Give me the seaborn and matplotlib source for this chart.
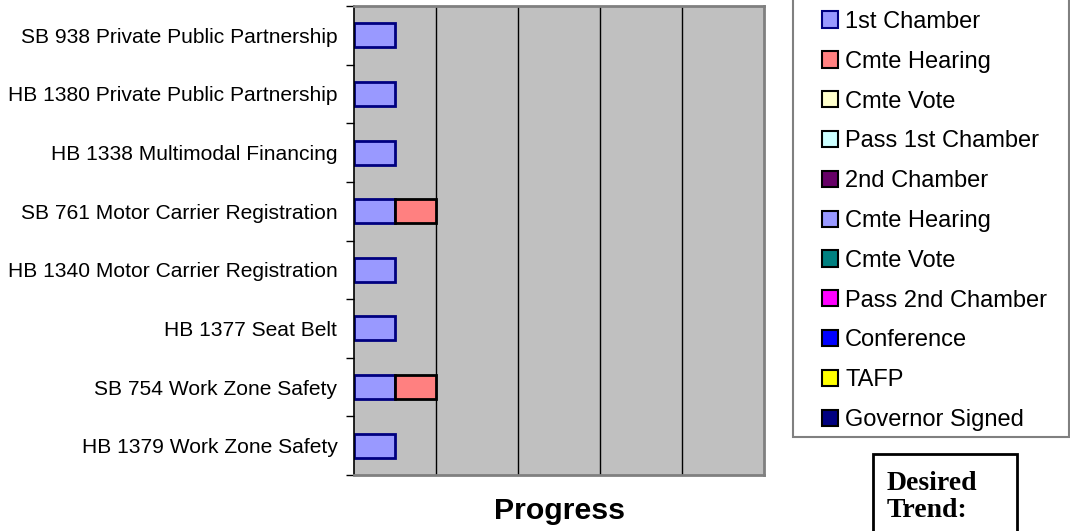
import numpy as np
import pandas as pd
import matplotlib
matplotlib.use("Agg")
import matplotlib.pyplot as plt
from matplotlib.patches import Patch, Rectangle
import seaborn as sns

# bills, top to bottom
bills = [
    "SB 938 Private Public Partnership",
    "HB 1380 Private Public Partnership",
    "HB 1338 Multimodal Financing",
    "SB 761 Motor Carrier Registration",
    "HB 1340 Motor Carrier Registration",
    "HB 1377 Seat Belt",
    "SB 754 Work Zone Safety",
    "HB 1379 Work Zone Safety",
]

# legislative stages (legend order)
stages = [
    "1st Chamber", "Cmte Hearing", "Cmte Vote", "Pass 1st Chamber",
    "2nd Chamber", "Cmte Hearing ", "Cmte Vote ", "Pass 2nd Chamber",
    "Conference", "TAFP", "Governor Signed",
]
stage_colors = [
    "#9999FF", "#FF8080", "#FFFFCC", "#CCFFFF", "#660066", "#9999FF",
    "#008080", "#FF00FF", "#0000FF", "#FFFF00", "#000080",
]
stage_edges = ["#000080"] + ["black"] * 10

# progress per stage for each bill
first_chamber = [1, 1, 1, 1, 1, 1, 1, 1]
cmte_hearing = [0, 0, 0, 1, 0, 0, 1, 0]

progress = pd.DataFrame(0, index=bills, columns=stages, dtype=float)
progress["1st Chamber"] = first_chamber
progress["Cmte Hearing"] = cmte_hearing
starts = progress.cumsum(axis=1) - progress

sns.set_style("white")
plt.rcParams["font.family"] = ["Liberation Sans", "DejaVu Sans"]
plt.rcParams["text.color"] = "black"
plt.rcParams["axes.labelcolor"] = "black"
plt.rcParams["ytick.color"] = "black"

fig = plt.figure(figsize=(10.7, 5.31), dpi=100)
ax = fig.add_axes([354 / 1070, 1 - 475 / 531, 410 / 1070, 469 / 531])
ax.set_facecolor("#C0C0C0")

for stage, col, ec in zip(stages, stage_colors, stage_edges):
    sub = progress[progress[stage] > 0]
    if sub.empty:
        continue
    df = pd.DataFrame({"bill": sub.index, "value": sub[stage].values})
    sns.barplot(data=df, x="value", y="bill", order=bills, orient="h",
                color=col, saturation=1, width=0.41, ax=ax,
                left=starts.loc[sub.index, stage].values,
                edgecolor=ec, linewidth=2)

ax.set_xlim(0, 10)
ax.set_ylim(len(bills) - 0.5, -0.5)
ax.set_xticks([2, 4, 6, 8])
ax.set_xticklabels([])
ax.tick_params(axis="x", length=0)
ax.xaxis.grid(True, color="black", linewidth=1)
ax.set_axisbelow(True)

ax.set_yticks(range(len(bills)))
ax.set_yticklabels(bills, fontsize=15.1)
ax.set_yticks(np.arange(-0.5, len(bills), 1), minor=True)
ax.tick_params(axis="y", which="major", length=0, pad=12)
ax.tick_params(axis="y", which="minor", length=6, width=1, color="black", left=True)
ax.set_ylabel("")
ax.set_xlabel("Progress", fontsize=21.8, fontweight="bold", labelpad=12)

for side in ["top", "right", "bottom"]:
    ax.spines[side].set_color("#808080")
    ax.spines[side].set_linewidth(2)
ax.spines["left"].set_color("black")
ax.spines["left"].set_linewidth(1.2)

# legend box
fig.patches.append(Rectangle((793 / 1070, 1 - 437 / 531), 276 / 1070, 437 / 531 + 0.05,
                             transform=fig.transFigure, facecolor="white",
                             edgecolor="#808080", linewidth=1.5, zorder=0))
handles = [Patch(facecolor=c, edgecolor=e, linewidth=1.5) for c, e in zip(stage_colors, stage_edges)]
fig.legend(handles, [s.strip() for s in stages], loc="center left",
           bbox_to_anchor=(822 / 1070, 1 - 221 / 531), frameon=False,
           fontsize=17, handlelength=0.68, handleheight=0.68,
           handletextpad=0.3, labelspacing=0.755, borderpad=0, borderaxespad=0)

# desired trend box
fig.patches.append(Rectangle((873 / 1070, -0.05), 144 / 1070, 0.05 + 1 - 454 / 531,
                             transform=fig.transFigure, facecolor="white",
                             edgecolor="black", linewidth=2))
fig.text(887 / 1070, 1 - 490 / 531, "Desired", fontsize=20, fontweight="bold",
         family="Liberation Serif", va="baseline")
fig.text(887 / 1070, 1 - 517 / 531, "Trend:", fontsize=20, fontweight="bold",
         family="Liberation Serif", va="baseline")

fig.savefig("out.png", dpi=100)
